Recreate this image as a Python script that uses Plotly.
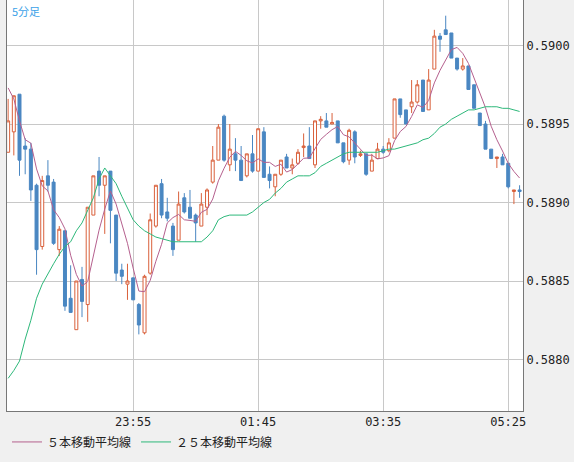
import plotly.graph_objects as go

# 5-minute bars, items 1..91 (22:05 .. 05:35); prices in 1e-5 units
opens = [58932,58945,58969,58936,58934,58911,58872,58917,58913,58870,58882,58839,58819,58851,58835,58892,58920,58911,58920,58892,
         58857,58848,58852,58835,58817,58855,58885,58912,58894,58885,58876,58903,58897,58892,58885,58897,58913,58927,58955,58924,
         58931,58927,58917,58931,58920,58945,58918,58910,58918,58929,58922,58925,58935,58936,58924,58952,58952,58950,58952,58938,
         58927,58945,58930,58931,58920,58928,58934,58933,58941,58966,58959,58961,58964,58978,58959,58985,59006,59010,59008,58992,
         58985,58987,58975,58957,58950,58934,58928,58929,58925,58907,58908]
highs = [58966,58968,58969,58941,58938,58912,58917,58927,58915,58885,58882,58860,58850,58859,58897,58917,58929,58917,58920,58892,
         58861,58861,58852,58836,58854,58893,58911,58915,58903,58887,58907,58906,58908,58893,58906,58909,58936,58950,58956,58950,
         58941,58936,58931,58943,58947,58948,58923,58918,58927,58931,58928,58934,58944,58948,58952,58955,58957,58957,58952,58938,
         58947,58946,58933,58931,58931,58938,58936,58941,58966,58966,58959,58978,58978,58978,58985,59010,59008,59019,59008,58992,
         58992,58987,58975,58957,58952,58934,58929,58931,58925,58908,58911]
lows = [58932,58930,58917,58918,58901,58854,58870,58907,58873,58866,58831,58830,58819,58827,58824,58892,58904,58880,58874,58850,
        58848,58838,58838,58816,58816,58854,58884,58890,58888,58866,58876,58893,58890,58875,58885,58892,58912,58927,58926,58920,
        58920,58914,58916,58919,58920,58916,58909,58904,58917,58922,58918,58924,58929,58928,58922,58947,58948,58950,58938,58925,
        58924,58925,58929,58917,58920,58928,58931,58932,58941,58954,58950,58957,58963,58958,58959,58985,58996,59007,58992,58984,
        58984,58972,58960,58949,58934,58928,58922,58924,58909,58899,58903]
closes = [58952,58968,58927,58934,58908,58870,58914,58911,58874,58883,58834,58830,58850,58837,58897,58917,58911,58917,58895,58855,
          58853,58850,58838,58822,58853,58889,58911,58892,58890,58870,58899,58894,58890,58887,58899,58908,58927,58948,58927,58934,
          58927,58914,58931,58920,58947,58916,58914,58918,58927,58922,58924,58932,58936,58928,58952,58953,58948,58951,58938,58926,
          58946,58929,58931,58918,58927,58934,58932,58938,58966,58956,58950,58964,58975,58958,58978,59006,59004,59007,58992,58985,
          58987,58972,58960,58949,58934,58928,58929,58924,58910,58908,58907]
ma5_head = [58973,58966,58952,58940]
ma25 = [58788,58793,58799,58813,58825,58839,58848,58855,58861,58867,58872,58875,58882,58887,58895,58903,58915,58922,58917,58912,
        58904,58897,58889,58885,58882,58880,58878,58877,58876,58875,58875,58875,58875,58875,58875,58878,58882,58889,58891,58892,
        58892,58892,58892,58894,58897,58900,58902,58906,58909,58913,58915,58917,58917,58917,58919,58923,58925,58927,58929,58931,
        58932,58932,58932,58932,58932,58932,58933,58934,58934,58935,58936,58937,58938,58940,58941,58944,58948,58950,58953,58955,
        58957,58959,58959,58960,58961,58961,58961,58960,58960,58959,58958]
tick_items = [23, 45, 67, 89]
tick_labels = ["23:55", "01:45", "03:35", "05:25"]
price_ticks = [0.5880, 0.5885, 0.5890, 0.5895, 0.5900]

S = 1e5
x = list(range(1, len(closes) + 1))
o = [v / S for v in opens]; h = [v / S for v in highs]; l = [v / S for v in lows]; c = [v / S for v in closes]
ma5 = ma5_head + [sum(closes[i-4:i+1]) / 5 for i in range(4, len(closes))]

fig = go.Figure()
fig.add_trace(go.Candlestick(x=x, open=o, high=h, low=l, close=c, showlegend=False,
    increasing=dict(line=dict(color="#d9603b", width=1), fillcolor="white"),
    decreasing=dict(line=dict(color="#4a87c2", width=1), fillcolor="#4a87c2"),
    whiskerwidth=0, hoverinfo="skip"))
fig.add_trace(go.Scatter(x=x, y=[v / S for v in ma5], mode="lines", name="５本移動平均線",
    line=dict(color="#b5608e", width=1)))
fig.add_trace(go.Scatter(x=x, y=[v / S for v in ma25], mode="lines", name="２５本移動平均線",
    line=dict(color="#2db87a", width=1)))

fig.update_layout(
    width=574, height=462, margin=dict(l=7, r=51, t=0, b=51, autoexpand=False),
    paper_bgcolor="#f0f0f0", plot_bgcolor="white", boxgap=0.25,
    font=dict(family="DejaVu Sans Mono", size=12, color="#222"),
    showlegend=True,
    legend=dict(orientation="h", x=0.0, y=-0.04, xanchor="left", yanchor="top",
                bgcolor="rgba(0,0,0,0)", font=dict(family="Noto Sans CJK JP", size=12, color="#222"),
                tracegroupgap=0),
    xaxis=dict(range=[0.8, 91.6], tickvals=tick_items, ticktext=tick_labels, rangeslider=dict(visible=False),
               showgrid=True, gridcolor="#c8c8c8", gridwidth=1, zeroline=False, automargin=False,
               showline=True, linecolor="#777", mirror=True, ticks="", tickfont=dict(size=12)),
    yaxis=dict(range=[0.587672, 0.59029], side="right", tickvals=price_ticks,
               ticktext=[f"{v:.4f}" for v in price_ticks], automargin=False,
               showgrid=True, gridcolor="#c8c8c8", gridwidth=1, zeroline=False,
               showline=True, linecolor="#777", mirror=True, ticks="", tickfont=dict(size=12)),
    annotations=[dict(text="5分足", xref="paper", yref="paper", x=0.005, y=0.997, xanchor="left", yanchor="top",
                      showarrow=False, font=dict(family="Noto Sans CJK JP", size=11, color="#3ca2e8"))],
)
fig.write_html("out.html", config={"displayModeBar": False},
               post_script="document.body.style.margin='0';document.body.style.overflow='hidden';")
